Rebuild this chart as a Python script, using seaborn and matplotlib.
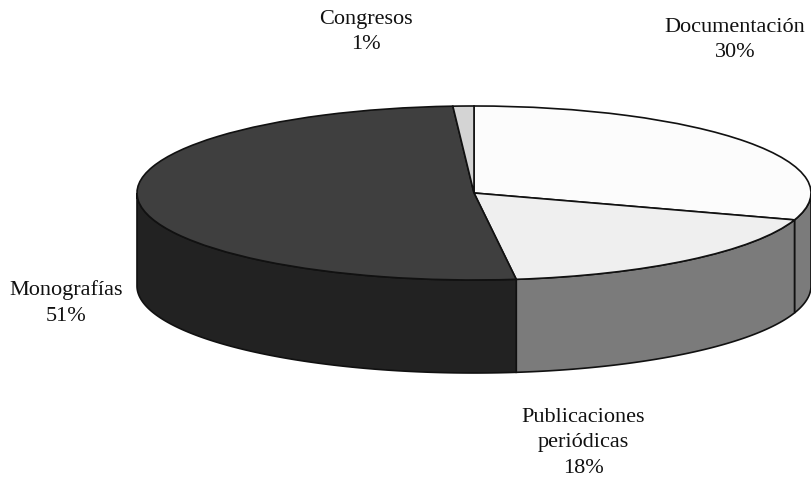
import numpy as np
import matplotlib
matplotlib.use("Agg")
import matplotlib.pyplot as plt
import seaborn as sns

categories = ["Documentación", "Publicaciones\nperiódicas", "Monografías", "Congresos"]
shares = [30, 18, 51, 1]
top_colors = ["#fcfcfc", "#efefef", "#3f3f3f", "#d4d4d4"]
side_colors = ["#7b7b7b", "#7b7b7b", "#222222", "#222222"]
label_xy = [(735, 40), (583, 443), (66, 303), (366, 32)]

sns.set_theme(style="white")
plt.rcParams["font.family"] = ["Liberation Serif", "DejaVu Serif"]

W, H = 812, 480
cx, cy, rx, ry, depth = 474, 193, 337, 87, 93

fig, ax = plt.subplots(figsize=(W / 100, H / 100), dpi=100)
ax.set_position([0, 0, 1, 1])

# Top face: a regular pie stretched into an ellipse by the axes scaling
ax.pie(shares, colors=top_colors, startangle=90, counterclock=False, radius=1,
       wedgeprops=dict(edgecolor="#111111", linewidth=1.2, zorder=3))
ax.set_aspect("auto")
ax.set_xlim(-cx / rx, (W - cx) / rx)
ax.set_ylim((cy - H) / ry, cy / ry)
wall = depth / ry

# Side wall: the visible front half of each slice, dropped by the rim depth
edges = np.cumsum([0] + shares) / sum(shares) * 360.0
for start, stop, col in zip(edges[:-1], edges[1:], side_colors):
    lo, hi = max(start, 90.0), min(stop, 270.0)
    if lo >= hi:
        continue
    t = np.radians(np.linspace(lo, hi, 120))
    x, y = np.sin(t), np.cos(t)
    ax.fill(np.r_[x, x[::-1]], np.r_[y, y[::-1] - wall], facecolor=col,
            edgecolor="#111111", linewidth=1.2, zorder=2)

# Category labels with their percentages
for name, share, (px, py) in zip(categories, shares, label_xy):
    ax.text((px - cx) / rx, (cy - py) / ry, f"{name}\n{share}%", ha="center", va="center",
            fontsize=16, color="#111111", linespacing=1.45, zorder=4)

fig.savefig("out.png", dpi=100, facecolor="white")
